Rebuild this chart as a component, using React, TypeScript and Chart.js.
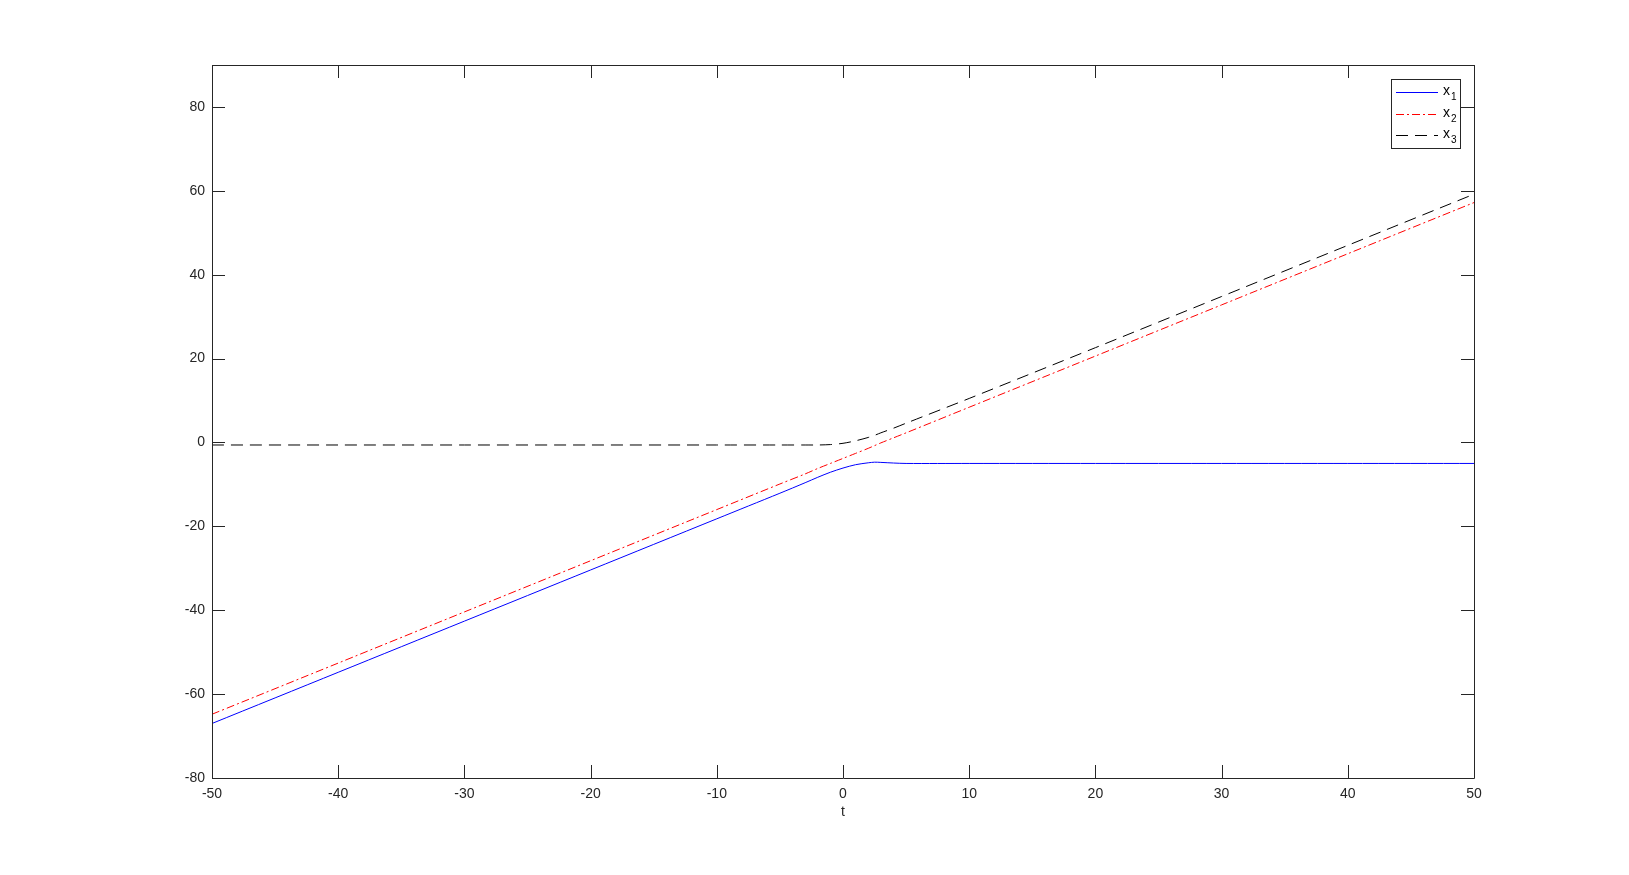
import React, { useEffect, useRef } from "react";
import { Chart, registerables } from "chart.js";

Chart.register(...registerables);

const tValues = [-50, -40, -30, -20, -10, -5, -3, -2, -1, 0, 1, 2, 2.5, 3, 4, 5, 10, 20, 30, 40, 50];
const x1Values = [-67, -54.8, -42.6, -30.4, -18.2, -12.1, -9.6, -8.3, -7.1, -6.1, -5.3, -4.85, -4.7, -4.75, -4.9, -5, -5, -5, -5, -5, -5];
const x2Values = [-64.8, -52.6, -40.4, -28.2, -16, -9.9, -7.5, -6.2, -5, -3.8, -2.6, -1.4, -0.75, -0.1, 1.1, 2.3, 8.4, 20.6, 32.8, 45, 57.2];
const x3Values = [-0.6, -0.6, -0.6, -0.6, -0.6, -0.6, -0.6, -0.6, -0.5, -0.2, 0.4, 1.2, 1.7, 2.3, 3.4, 4.6, 10.5, 22.6, 34.8, 47, 59.2];

const seriesNames = ["1", "2", "3"];
const seriesColors = ["#0000ff", "#ff0000", "#000000"];
const seriesDashes: number[][] = [[], [8, 3, 2, 3], [12, 7]];
const xTickValues = [-50, -40, -30, -20, -10, 0, 10, 20, 30, 40, 50];
const yTickValues = [-80, -60, -40, -20, 0, 20, 40, 60, 80];
const xTitle = "t";

const AXIS_COLOR = "#262626";
const FONT = "Liberation Sans, Arial, sans-serif";

const innerTicks = {
  id: "innerTicks",
  afterDraw(chart: any) {
    const { ctx, chartArea: a, scales } = chart;
    const xs = scales.x;
    const ys = scales.y;
    const len = 13;
    ctx.save();
    ctx.strokeStyle = AXIS_COLOR;
    ctx.lineWidth = 1;
    ctx.beginPath();
    ctx.rect(Math.round(a.left) + 0.5, Math.round(a.top) + 0.5, Math.round(a.right - a.left), Math.round(a.bottom - a.top));
    ctx.stroke();
    ctx.beginPath();
    for (const v of xTickValues) {
      const px = Math.round(xs.getPixelForValue(v)) + 0.5;
      ctx.moveTo(px, a.bottom);
      ctx.lineTo(px, a.bottom - len);
      ctx.moveTo(px, a.top);
      ctx.lineTo(px, a.top + len);
    }
    for (const v of yTickValues) {
      const py = Math.round(ys.getPixelForValue(v)) + 0.5;
      ctx.moveTo(a.left, py);
      ctx.lineTo(a.left + len, py);
      ctx.moveTo(a.right, py);
      ctx.lineTo(a.right - len, py);
    }
    ctx.stroke();

    // x axis title
    ctx.fillStyle = AXIS_COLOR;
    ctx.font = `14px ${FONT}`;
    ctx.textAlign = "center";
    ctx.textBaseline = "middle";
    ctx.fillText(xTitle, (a.left + a.right) / 2, 812);

    // legend
    const bx = 1391.5, by = 79.5, bw = 69, bh = 69;
    ctx.fillStyle = "#ffffff";
    ctx.fillRect(bx, by, bw, bh);
    ctx.strokeStyle = AXIS_COLOR;
    ctx.strokeRect(bx, by, bw, bh);
    const rows = [92, 113.5, 135];
    seriesNames.forEach((name, i) => {
      const y = Math.round(rows[i]) + 0.5;
      ctx.strokeStyle = seriesColors[i];
      ctx.setLineDash(seriesDashes[i]);
      ctx.beginPath();
      ctx.moveTo(1396, y);
      ctx.lineTo(1438, y);
      ctx.stroke();
      ctx.setLineDash([]);
      ctx.fillStyle = "#000000";
      ctx.textBaseline = "alphabetic";
      ctx.textAlign = "left";
      ctx.font = `14px ${FONT}`;
      ctx.fillText("x", 1443, rows[i] + 3);
      ctx.font = `10px ${FONT}`;
      ctx.fillText(name, 1451, rows[i] + 8);
    });
    ctx.restore();
  },
};

export default function App() {
  const ref = useRef<HTMLCanvasElement | null>(null);
  useEffect(() => {
    if (!ref.current) return;
    const mk = (vals: number[]) => tValues.map((t, i) => ({ x: t, y: vals[i] }));
    const chart = new Chart(ref.current, {
      type: "line",
      data: {
        datasets: [x1Values, x2Values, x3Values].map((vals, i) => ({
          label: "x" + seriesNames[i],
          data: mk(vals),
          borderColor: seriesColors[i],
          borderWidth: 1,
          borderDash: seriesDashes[i],
          pointRadius: 0,
          tension: 0.3,
          fill: false,
        })),
      },
      options: {
        animation: false,
        responsive: false,
        maintainAspectRatio: false,
        layout: { padding: { left: 0, top: 65, right: 155, bottom: 0 } },
        plugins: { legend: { display: false }, tooltip: { enabled: false } },
        scales: {
          x: {
            type: "linear",
            min: -50,
            max: 50,
            grid: { display: false, drawTicks: false },
            border: { display: false },
            ticks: { stepSize: 10, color: AXIS_COLOR, font: { family: FONT, size: 14 }, padding: 8, maxRotation: 0 },
            afterFit: (s: any) => { s.height = 97; },
          },
          y: {
            type: "linear",
            min: -80,
            max: 90,
            grid: { display: false, drawTicks: false },
            border: { display: false },
            ticks: { stepSize: 20, includeBounds: false, color: AXIS_COLOR, font: { family: FONT, size: 14 }, padding: 7 },
            afterFit: (s: any) => { s.width = 212; },
          },
        },
      },
      plugins: [innerTicks],
    });
    return () => chart.destroy();
  }, []);
  return (
    <div style={{ position: "fixed", left: 0, top: 0, width: 1629, height: 875, background: "#fff" }}>
      <canvas ref={ref} width={1629} height={875} style={{ width: 1629, height: 875 }} />
    </div>
  );
}
